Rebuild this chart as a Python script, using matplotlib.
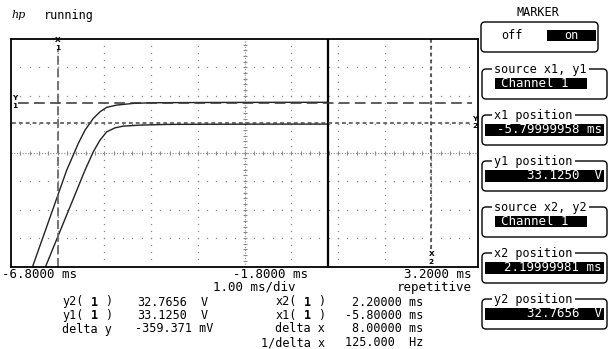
import numpy as np
import matplotlib.pyplot as plt
from matplotlib.patches import FancyBboxPatch, Rectangle

plt.rcParams['font.family'] = ['DejaVu Sans Mono', 'DejaVu Sans']

# timebase / vertical setup
t_center, ms_per_div = -1.8, 1.0
v_center, v_per_div = 32.25, 0.5

# channel 1 traces (ms, V)
t_upper = [-6.45, -6.335, -5.607, -5.359, -5.215, -5.038, -4.894, -4.751,
           -4.537, -4.181, -3.824, -3.4, -2.6, -1.4, -0.01]
v_upper = [30.00, 30.254, 31.944, 32.414, 32.648, 32.854, 32.970, 33.048,
           33.088, 33.118, 33.128, 33.131, 33.134, 33.136, 33.137]
t_lower = [-6.18, -6.057, -5.215, -5.038, -4.894, -4.751, -4.573, -4.395,
           -4.038, -3.466, -2.6, -1.4, -0.01]
v_lower = [30.00, 30.254, 31.944, 32.266, 32.472, 32.618, 32.688, 32.718,
           32.736, 32.748, 32.751, 32.753, 32.754]

# markers
x1, x2 = -5.8, 2.2
y1, y2 = 33.125, 32.7656

# readouts
scale_left = ['-6.8000 ms', '-1.8000 ms', '3.2000 ms']
scale_info = ['1.00 ms/div', 'repetitive']
y_labels = ['y2', 'y1', 'delta y']
y_values = ['32.7656', '33.1250', '-359.371 mV']
x_labels = ['x2', 'x1', 'delta x', '1/delta x']
x_values = ['2.20000 ms', '-5.80000 ms', '8.00000 ms', '125.000  Hz']
channel = '1'

# softkeys
key_titles = ['source x1, y1', 'x1 position', 'y1 position',
              'source x2, y2', 'x2 position', 'y2 position']
key_values = ['Channel 1', '-5.79999958 ms', '33.1250  V',
              'Channel 1', '2.19999981 ms', '32.7656  V']

W, H = 613, 349
fig = plt.figure(figsize=(W / 100, H / 100), dpi=100)

# --- scope graticule ---
L, R, T, B = 11, 478, 39, 266.5
ax = fig.add_axes([L / W, (H - B) / H, (R - L) / W, (B - T) / H])
t_lo, t_hi = t_center - 5 * ms_per_div, t_center + 5 * ms_per_div
v_lo, v_hi = v_center - 4 * v_per_div, v_center + 4 * v_per_div
ax.set_xlim(t_lo, t_hi)
ax.set_ylim(v_lo, v_hi)
ax.set_xticks([])
ax.set_yticks([])
for s in ax.spines.values():
    s.set_linewidth(1.3)
    s.set_color('black')

grid_c = '#8a8a8a'
tx = np.arange(t_lo, t_hi + 1e-9, ms_per_div / 5)[1:-1]
vy = np.arange(v_lo, v_hi + 1e-9, v_per_div / 4)[1:-1]
for k in range(1, 8):
    v = v_lo + k * v_per_div
    if k == 4:
        continue
    ax.plot(tx, np.full_like(tx, v), ls='none', marker='s', ms=0.9, color=grid_c, mew=0)
for k in range(1, 10):
    t = t_lo + k * ms_per_div
    if k == 5:
        continue
    ax.plot(np.full_like(vy, t), vy, ls='none', marker='s', ms=0.9, color=grid_c, mew=0)
# centre axes with ticks
ax.axhline(v_center, color=grid_c, lw=0.8, ls=(0, (1, 1.5)))
ax.plot(tx, np.full_like(tx, v_center), ls='none', marker='|', ms=3.5, mew=0.8, color=grid_c)
vc = np.arange(v_lo, v_hi + 1e-9, v_per_div / 5)[1:-1]
ax.axvline(t_center, color=grid_c, lw=0.8, ls=(0, (1, 1.5)))
ax.plot(np.full_like(vc, t_center), vc, ls='none', marker='_', ms=3.5, mew=0.8, color=grid_c)

# traces
ax.plot(t_upper, v_upper, color='#222222', lw=1.0)
ax.plot(t_lower, v_lower, color='#222222', lw=1.0)
ax.axvline(t_upper[-1], color='black', lw=1.6)

# marker lines
ax.axvline(x1, ymax=0.95, color='#6a6a6a', lw=1.3, ls=(0, (5, 2)))
ax.axvline(x2, ymin=0.075, color='#333333', lw=1.1, ls=(0, (2.5, 2)))
ax.axhline(y1, xmin=0.016, xmax=0.987, color='#333333', lw=1.1, ls=(0, (7, 3.5)))
ax.axhline(y2, xmin=0.003, xmax=0.987, color='#444444', lw=1.1, ls=(0, (2.5, 2)))

lab = dict(fontsize=5.3, fontweight='bold', ha='center', va='center',
           family='DejaVu Sans', annotation_clip=False)
ax.annotate('X', xy=(x1, 1), xycoords=('data', 'axes fraction'),
            xytext=(0, -1), textcoords='offset pixels', **lab)
ax.annotate('1', xy=(x1, 1), xycoords=('data', 'axes fraction'),
            xytext=(0, -8.5), textcoords='offset pixels', **lab)
ax.annotate('X', xy=(x2, 0), xycoords=('data', 'axes fraction'),
            xytext=(0, 13), textcoords='offset pixels', **lab)
ax.annotate('2', xy=(x2, 0), xycoords=('data', 'axes fraction'),
            xytext=(0, 5), textcoords='offset pixels', **lab)
ax.annotate('Y', xy=(0, y1), xycoords=('axes fraction', 'data'),
            xytext=(3.5, 4.5), textcoords='offset pixels', **lab)
ax.annotate('1', xy=(0, y1), xycoords=('axes fraction', 'data'),
            xytext=(3.5, -3), textcoords='offset pixels', **lab)
ax.annotate('Y', xy=(1, y2), xycoords=('axes fraction', 'data'),
            xytext=(-3.5, 4.5), textcoords='offset pixels', **lab)
ax.annotate('2', xy=(1, y2), xycoords=('axes fraction', 'data'),
            xytext=(-3.5, -3), textcoords='offset pixels', **lab)

# --- overlay in screen pixels ---
ov = fig.add_axes([0, 0, 1, 1])
ov.set_xlim(0, W)
ov.set_ylim(H, 0)
ov.axis('off')

ov.text(11, 15, 'hp', fontsize=8, style='italic', family='DejaVu Serif', va='center')
ov.text(44, 15, 'running', fontsize=8.5, va='center')

ov.text(2, 275, scale_left[0], fontsize=9, va='center')
ov.text(233, 275, scale_left[1], fontsize=9, va='center')
ov.text(472, 275, scale_left[2], fontsize=9, va='center', ha='right')
ov.text(213, 287, scale_info[0], fontsize=9, va='center')
ov.text(472, 287, scale_info[1], fontsize=9, va='center', ha='right')

fs = 8.5
cw = 0.602 * fs * 100 / 72  # monospace character pitch in pixels


def cursor_label(x_right, y, name):
    # "name( 1 )" with the channel number in bold
    x0 = x_right - 7 * cw
    ov.text(x0, y, name + '(', fontsize=fs, va='center')
    ov.text(x0 + 4.5 * cw, y, channel, fontsize=fs, va='center',
            ha='center', fontweight='bold')
    ov.text(x0 + 6 * cw, y, ')', fontsize=fs, va='center')


rows = [302, 315.5, 329, 342.5]
for i in range(3):
    if i < 2:
        cursor_label(112, rows[i], y_labels[i])
        ov.text(208, rows[i], 'V', fontsize=fs, va='center', ha='right')
    else:
        ov.text(112, rows[i], y_labels[i], fontsize=fs, va='center', ha='right')
    ov.text(187 if i < 2 else 213, rows[i], y_values[i], fontsize=fs, va='center', ha='right')
for i in range(4):
    if i < 2:
        cursor_label(325, rows[i], x_labels[i])
    else:
        ov.text(325, rows[i], x_labels[i], fontsize=fs, va='center', ha='right')
    ov.text(423, rows[i], x_values[i], fontsize=fs, va='center', ha='right')

# MARKER softkey
ov.text(538, 13, 'MARKER', fontsize=8.5, ha='center', va='center')
ov.add_patch(FancyBboxPatch((481, 22), 117, 30, boxstyle='round,pad=0,rounding_size=4',
                            fc='none', ec='black', lw=1.0))
ov.text(512, 35.5, 'off', fontsize=8.5, ha='center', va='center')
ov.add_patch(Rectangle((547, 30), 49, 11, fc='black', ec='none'))
ov.text(571.5, 35.5, 'on', fontsize=8.5, ha='center', va='center', color='white')

for i, (title, val) in enumerate(zip(key_titles, key_values)):
    top = 69 + 46 * i
    ov.add_patch(FancyBboxPatch((482, top), 125, 30, boxstyle='round,pad=0,rounding_size=4',
                                fc='none', ec='black', lw=1.0))
    ov.text(494, top, title, fontsize=8.5, va='center',
            bbox=dict(fc='white', ec='none', pad=1.5))
    if val.startswith('Channel'):
        ov.add_patch(Rectangle((495, top + 9), 92, 10.5, fc='black', ec='none'))
        ov.text(501, top + 14.2, val, fontsize=9, va='center', color='white')
    else:
        ov.add_patch(Rectangle((485, top + 8.5), 119, 12, fc='black', ec='none'))
        ov.text(602, top + 14.5, val, fontsize=9, va='center', ha='right', color='white')

fig.savefig('out.png', dpi=100)
